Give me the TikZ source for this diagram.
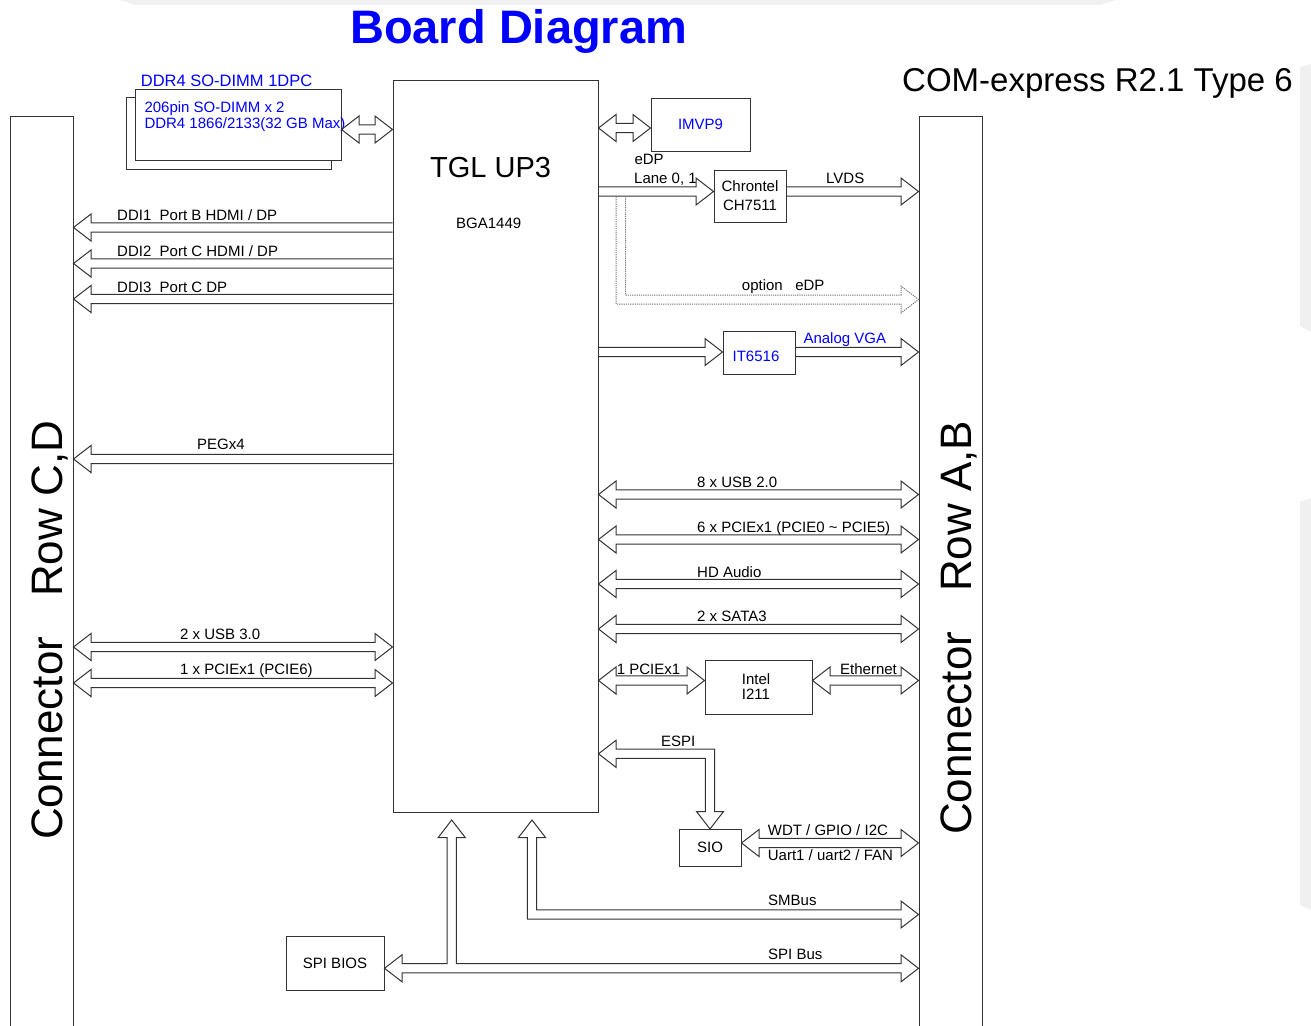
\documentclass[tikz,border=0pt]{standalone}
\usepackage{fontspec}
\setmainfont{Liberation Sans}
\usetikzlibrary{calc}
\definecolor{ln}{gray}{0.2}
\definecolor{bl}{RGB}{0,0,255}
\def\aw{4.6}\def\ah{13.5}\def\al{17.5}
\tikzset{
 box/.style={draw=ln, line width=1pt, fill=white, inner sep=0pt, font=\fontsize{15}{15}\selectfont, align=center},
 lbl/.style={inner sep=0pt, anchor=base west, font=\fontsize{15}{18}\selectfont},
 fat/.style={draw=ln, line width=1pt, line join=miter},
 dotfat/.style={draw=black!55, line width=1pt, dash pattern=on 1.2pt off 1pt},
}
% single head at #2 (to the right of #1)
\newcommand\farR[3]{\draw[fat] let \p1=(#1), \p2=(#2) in
  (\x1,{#3-\aw}) -- ({\x2-\al},{#3-\aw}) -- ({\x2-\al},{#3-\ah}) -- (\x2,#3) -- ({\x2-\al},{#3+\ah}) -- ({\x2-\al},{#3+\aw}) -- (\x1,{#3+\aw});}
% single head at #2 (to the left of #1)
\newcommand\farL[3]{\draw[fat] let \p1=(#1), \p2=(#2) in
  (\x1,{#3-\aw}) -- ({\x2+\al},{#3-\aw}) -- ({\x2+\al},{#3-\ah}) -- (\x2,#3) -- ({\x2+\al},{#3+\ah}) -- ({\x2+\al},{#3+\aw}) -- (\x1,{#3+\aw});}
% double head, #1 left of #2
\newcommand\farB[3]{\draw[fat] let \p1=(#1), \p2=(#2) in
  (\x1,#3) -- ({\x1+\al},{#3-\ah}) -- ({\x1+\al},{#3-\aw}) -- ({\x2-\al},{#3-\aw}) -- ({\x2-\al},{#3-\ah}) -- (\x2,#3) -- ({\x2-\al},{#3+\ah}) -- ({\x2-\al},{#3+\aw}) -- ({\x1+\al},{#3+\aw}) -- ({\x1+\al},{#3+\ah}) -- cycle;}
\begin{document}
\begin{tikzpicture}[x=1pt,y=-1pt]
\useasboundingbox (0,0) rectangle (1311,1025);
% page shading
\fill[gray!12] (120,0) -- (1116,0) -- (1100,5) -- (136,5) -- cycle;
\fill[gray!12] (1300,67) -- (1311,64) -- (1311,332) -- (1300,326) -- cycle;
\fill[gray!12] (1300,502) -- (1311,498) -- (1311,910) -- (1300,905) -- cycle;

% titles
\node[inner sep=0pt, anchor=base west, font=\fontsize{47}{47}\selectfont\bfseries, text=bl] (title) at (350,44) {Board Diagram};
\node[inner sep=0pt, anchor=base west, font=\fontsize{33}{33}\selectfont] (com) at (902,91.5) {COM-express R2.1 Type 6};

% boxes
\node[box, minimum width=63pt, minimum height=930pt] (lconn) at (41.5,581) {};
\node[box, minimum width=63pt, minimum height=930pt] (rconn) at (950.5,581) {};
\node[box, minimum width=205pt, minimum height=732pt] (cpu) at (495.5,446) {};
\node[box, minimum width=205pt, minimum height=72pt] (dimmb) at (228.5,133) {};
\node[box, minimum width=206pt, minimum height=71pt] (dimmf) at (238,124.5) {};
\node[box, minimum width=99pt, minimum height=53pt, text=bl] (imvp) at (700.5,124.5) {IMVP9};
\node[box, minimum width=72pt, minimum height=52pt, font=\fontsize{15}{19}\selectfont] (chron) at (750,196) {Chrontel\\CH7511};
\node[box, minimum width=72pt, minimum height=43pt] (it) at (759,352.5) {};
\node[box, minimum width=107pt, minimum height=54pt] (intel) at (758.5,687) {};
\node[box, minimum width=62pt, minimum height=37pt] (sio) at (710,847.5) {SIO};
\node[box, minimum width=98pt, minimum height=54pt] (spib) at (335,963) {SPI BIOS};

% texts in boxes
\node[lbl, anchor=base, text=bl] (itt) at (756,361.7) {IT6516};
\node[lbl, anchor=base] (intt1) at (756,684) {Intel};
\node[lbl, anchor=base] (intt2) at (756,699) {I211};
\node[lbl, font=\fontsize{29}{29}\selectfont] (tgl) at (430,177.3) {TGL UP3};
\node[lbl] (bga) at (456,228.3) {BGA1449};
\node[inner sep=0pt, anchor=base west, rotate=90, font=\fontsize{44}{44}\selectfont] (lct) at (62,840) {Connector\hspace{40pt}Row C,D};
\node[inner sep=0pt, anchor=base west, rotate=90, font=\fontsize{44}{44}\selectfont] (rct) at (971,835) {Connector\hspace{40pt}Row A,B};
\node[lbl, text=bl, font=\fontsize{16.5}{16.5}\selectfont] (dimt) at (140.7,86.7) {DDR4 SO-DIMM 1DPC};
\node[lbl, text=bl] (dim1) at (144.3,112.7) {206pin SO-DIMM x 2};
\node[lbl, text=bl] (dim2) at (144.3,128.3) {DDR4 1866/2133(32 GB Max)};

% left side arrows
\farL{cpu.west}{lconn.east}{227.5}
\farL{cpu.west}{lconn.east}{263.5}
\farL{cpu.west}{lconn.east}{299}
\farL{cpu.west}{lconn.east}{459}
\farB{lconn.east}{cpu.west}{647}
\farB{lconn.east}{cpu.west}{683}
\farB{dimmf.east}{cpu.west}{129.5}

% right side arrows
\farB{cpu.east}{imvp.west}{128}
\farR{cpu.east}{chron.west}{191.5}
\farR{chron.east}{rconn.west}{191.5}
\farR{cpu.east}{it.west}{352}
\farR{it.east}{rconn.west}{352}
\farB{cpu.east}{rconn.west}{494.5}
\farB{cpu.east}{rconn.west}{539.5}
\farB{cpu.east}{rconn.west}{584}
\farB{cpu.east}{rconn.west}{629}
\farB{cpu.east}{intel.west}{680.5}
\farB{intel.east}{rconn.west}{680.5}
\farB{sio.east}{rconn.west}{843}

% option eDP (dotted)
\draw[dotfat] let \p1=(cpu.east), \p2=(rconn.west) in
  ({\x1+27},196.1) -- ({\x1+27},295) -- ({\x2-\al},295) -- ({\x2-\al},{299.5-\ah}) -- (\x2,299.5)
  -- ({\x2-\al},{299.5+\ah}) -- ({\x2-\al},304) -- ({\x1+17.7},304) -- ({\x1+17.7},196.1);

% ESPI
\draw[fat] let \p1=(cpu.east), \p2=(sio.north) in
  (\x1,753.8) -- ({\x1+\al},{753.8-\ah}) -- ({\x1+\al},{753.8-\aw}) -- ({\x2+\aw},{753.8-\aw})
  -- ({\x2+\aw},{829-\al}) -- ({\x2+\ah},{829-\al}) -- (\x2,829) -- ({\x2-\ah},{829-\al})
  -- ({\x2-\aw},{829-\al}) -- ({\x2-\aw},{753.8+\aw}) -- ({\x1+\al},{753.8+\aw}) -- ({\x1+\al},{753.8+\ah}) -- cycle;

% SMBus
\draw[fat] let \p2=(rconn.west) in
  (532,820) -- ({532+\ah},{820+\al}) -- ({532+\aw},{820+\al}) -- ({532+\aw},{914.5-\aw})
  -- ({\x2-\al},{914.5-\aw}) -- ({\x2-\al},{914.5-\ah}) -- (\x2,914.5) -- ({\x2-\al},{914.5+\ah})
  -- ({\x2-\al},{914.5+\aw}) -- ({532-\aw},{914.5+\aw}) -- ({532-\aw},{820+\al}) -- ({532-\ah},{820+\al}) -- cycle;

% SPI bus
\draw[fat] let \p1=(spib.east), \p2=(rconn.west) in
  (\x1,968.3) -- ({\x1+\al},{968.3-\ah}) -- ({\x1+\al},{968.3-\aw}) -- ({451.7-\aw},{968.3-\aw})
  -- ({451.7-\aw},{820+\al}) -- ({451.7-\ah},{820+\al}) -- (451.7,820) -- ({451.7+\ah},{820+\al})
  -- ({451.7+\aw},{820+\al}) -- ({451.7+\aw},{968.3-\aw}) -- ({\x2-\al},{968.3-\aw}) -- ({\x2-\al},{968.3-\ah})
  -- (\x2,968.3) -- ({\x2-\al},{968.3+\ah}) -- ({\x2-\al},{968.3+\aw}) -- ({\x1+\al},{968.3+\aw})
  -- ({\x1+\al},{968.3+\ah}) -- cycle;

% labels
\node[lbl] (l1) at (117,220) {DDI1\ \ Port B HDMI / DP};
\node[lbl] (l2) at (117,256) {DDI2\ \ Port C HDMI / DP};
\node[lbl] (l3) at (117,292) {DDI3\ \ Port C DP};
\node[lbl] (l4) at (197,449.5) {PEGx4};
\node[lbl] (l5) at (180,639.5) {2 x USB 3.0};
\node[lbl] (l6) at (180,674.5) {1 x PCIEx1 (PCIE6)};
\node[lbl] (r1) at (697,487) {8 x USB 2.0};
\node[lbl] (r2) at (697,532) {6 x PCIEx1 (PCIE0 \textasciitilde\ PCIE5)};
\node[lbl] (r3) at (697,577) {HD Audio};
\node[lbl] (r4) at (697,621.5) {2 x SATA3};
\node[lbl] (e1) at (634.3,164.5) {eDP};
\node[lbl] (e2) at (634,183.5) {Lane 0, 1};
\node[lbl] (e3) at (826,183.5) {LVDS};
\node[lbl] (e4) at (741.7,290.7) {option\hspace{12.5pt}eDP};
\node[lbl, text=bl] (e5) at (803.3,343.3) {Analog VGA};
\node[lbl] (p1) at (616.7,674.3) {1 PCIEx1};
\node[lbl] (p2) at (840,674.3) {Ethernet};
\node[lbl] (s1) at (661,746) {ESPI};
\node[lbl] (s2) at (767.7,835) {WDT / GPIO / I2C};
\node[lbl] (s3) at (767.7,860.7) {Uart1 / uart2 / FAN};
\node[lbl] (s4) at (768,905) {SMBus};
\node[lbl] (s5) at (768,959.3) {SPI Bus};
\end{tikzpicture}
\end{document}
